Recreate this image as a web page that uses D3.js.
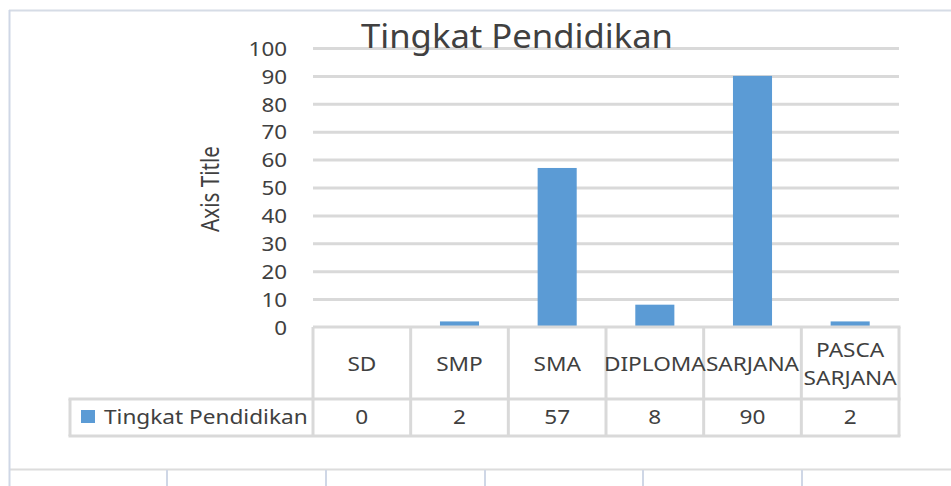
<!DOCTYPE html>
<html>
<head>
<meta charset="utf-8">
<script src="https://cdn.jsdelivr.net/npm/d3@7"></script>
<style>
  body { margin: 0; background: #fff; }
  svg { display: block; font-family: "Noto Sans", "Open Sans", sans-serif; }
</style>
</head>
<body>
<svg width="951" height="486"></svg>
<script>
// chart data
var chartTitle = "Tingkat Pendidikan";
var axisTitle = "Axis Title";
var seriesName = "Tingkat Pendidikan";
var categories = ["SD", "SMP", "SMA", "DIPLOMA", "SARJANA", "PASCA SARJANA"];
var values = [0, 2, 57, 8, 90, 2];
var yTicks = [0, 10, 20, 30, 40, 50, 60, 70, 80, 90, 100];

var svg = d3.select("svg"),
    plot = {left: 313, right: 899, top: 48, bottom: 327},
    rowCat = {top: 327, bottom: 399},
    rowVal = {top: 399, bottom: 436},
    legendLeft = 70,
    textColor = "#404040",
    lineColor = "#d9d9d9",
    sx = 1.12,     // tick labels are a bit stretched sideways
    sxTab = 1.19;  // table text even more

var x = d3.scaleBand()
    .domain(categories)
    .range([plot.left, plot.right])
    .paddingInner(0.6)
    .paddingOuter(0.3);

var cell = d3.scaleBand()
    .domain(categories)
    .range([plot.left, plot.right]);

var y = d3.scaleLinear()
    .domain([0, 100])
    .range([plot.bottom, plot.top]);

// outer frame (chart area + page table lines)
var frame = svg.append("g");
frame.append("line").attr("x1", 9).attr("x2", 951).attr("y1", 10.5).attr("y2", 10.5)
    .attr("stroke", "#d6dce6").attr("stroke-width", 2);
frame.append("line").attr("x1", 9).attr("x2", 951).attr("y1", 469.5).attr("y2", 469.5)
    .attr("stroke", "#dcdcdc").attr("stroke-width", 2);
[9.5, 167, 326, 485, 643, 802].forEach(function(px, i) {
  frame.append("line")
      .attr("x1", px).attr("x2", px)
      .attr("y1", i === 0 ? 10 : 470).attr("y2", 486)
      .attr("stroke", "#cfd7e6").attr("stroke-width", 2);
});

// gridlines
svg.append("g")
    .attr("transform", "translate(" + plot.left + ",0)")
    .call(d3.axisLeft(y).tickValues(yTicks.filter(function(d) { return d > 0; }))
        .tickSize(-(plot.right - plot.left)).tickFormat(""))
    .call(function(g) {
      g.select(".domain").remove();
      g.selectAll("line").attr("stroke", lineColor).attr("stroke-width", 3);
    });

// y tick labels
svg.append("g")
    .attr("transform", "translate(" + plot.left + ",0)")
    .call(d3.axisLeft(y).tickValues(yTicks).tickSize(0).tickPadding(0))
    .call(function(g) {
      g.select(".domain").remove();
      g.selectAll("text")
          .attr("x", -26 / sx)
          .attr("dy", "0.36em")
          .attr("transform", "scale(" + sx + ",1)")
          .attr("fill", textColor)
          .style("font-size", "20px")
          .style("font-family", "Noto Sans, sans-serif");
    });

// bars
svg.append("g").selectAll("rect")
    .data(values)
    .enter().append("rect")
      .attr("x", function(d, i) { return x(categories[i]); })
      .attr("y", function(d) { return y(d); })
      .attr("width", x.bandwidth())
      .attr("height", function(d) { return y(0) - y(d); })
      .attr("fill", "#5b9bd5");

// title
svg.append("text")
    .attr("x", 517).attr("y", 48)
    .attr("text-anchor", "middle")
    .attr("fill", textColor)
    .attr("textLength", 312)
    .attr("lengthAdjust", "spacingAndGlyphs")
    .style("font-size", "32px")
    .text(chartTitle);

// axis title
svg.append("text")
    .attr("transform", "translate(219,189) rotate(-90)")
    .attr("text-anchor", "middle")
    .attr("fill", textColor)
    .attr("textLength", 86)
    .attr("lengthAdjust", "spacingAndGlyphs")
    .style("font-size", "25px")
    .text(axisTitle);

// data table
var table = svg.append("g")
    .attr("stroke", lineColor)
    .attr("stroke-width", 3)
    .attr("fill", "none");

table.append("line").attr("x1", plot.left).attr("x2", plot.right + 1.5)
    .attr("y1", rowCat.top).attr("y2", rowCat.top);
[rowVal.top, rowVal.bottom].forEach(function(py) {
  table.append("line").attr("x1", legendLeft - 1.5).attr("x2", plot.right + 1.5)
      .attr("y1", py).attr("y2", py);
});
table.append("line").attr("x1", legendLeft).attr("x2", legendLeft)
    .attr("y1", rowVal.top).attr("y2", rowVal.bottom);
categories.concat([null]).forEach(function(c) {
  var px = c === null ? plot.right : cell(c);
  table.append("line").attr("x1", px).attr("x2", px)
      .attr("y1", rowCat.top).attr("y2", rowVal.bottom);
});

// category labels
var catText = svg.append("g").selectAll("text")
    .data(categories)
    .enter().append("text")
      .attr("text-anchor", "middle")
      .attr("fill", textColor)
      .style("font-size", "19px")
      .attr("transform", function(d) {
        var cx = cell(d) + cell.bandwidth() / 2,
            cy = (rowCat.top + rowCat.bottom) / 2 + 1;
        return "translate(" + cx + "," + cy + ") scale(" + sxTab + ",1)";
      });

catText.each(function(d) {
  var lines = d.split(" "),
      lh = 28,
      t = d3.select(this);
  lines.forEach(function(l, i) {
    t.append("tspan")
        .attr("x", 0)
        .attr("y", (i - (lines.length - 1) / 2) * lh)
        .attr("dy", "0.36em")
        .text(l);
  });
});

// value labels
svg.append("g").selectAll("text")
    .data(values)
    .enter().append("text")
      .attr("text-anchor", "middle")
      .attr("dy", "0.36em")
      .attr("fill", textColor)
      .style("font-size", "19px")
      .attr("transform", function(d, i) {
        var cx = cell(categories[i]) + cell.bandwidth() / 2,
            cy = (rowVal.top + rowVal.bottom) / 2;
        return "translate(" + cx + "," + cy + ") scale(" + sxTab + ",1)";
      })
      .text(function(d) { return d; });

// legend key in table
svg.append("rect")
    .attr("x", 81).attr("y", 410)
    .attr("width", 14).attr("height", 13)
    .attr("fill", "#5b9bd5");

svg.append("text")
    .attr("transform", "translate(104," + ((rowVal.top + rowVal.bottom) / 2) + ") scale(" + sxTab + ",1)")
    .attr("dy", "0.36em")
    .attr("fill", textColor)
    .style("font-size", "19px")
    .text(seriesName);
</script>
</body>
</html>
